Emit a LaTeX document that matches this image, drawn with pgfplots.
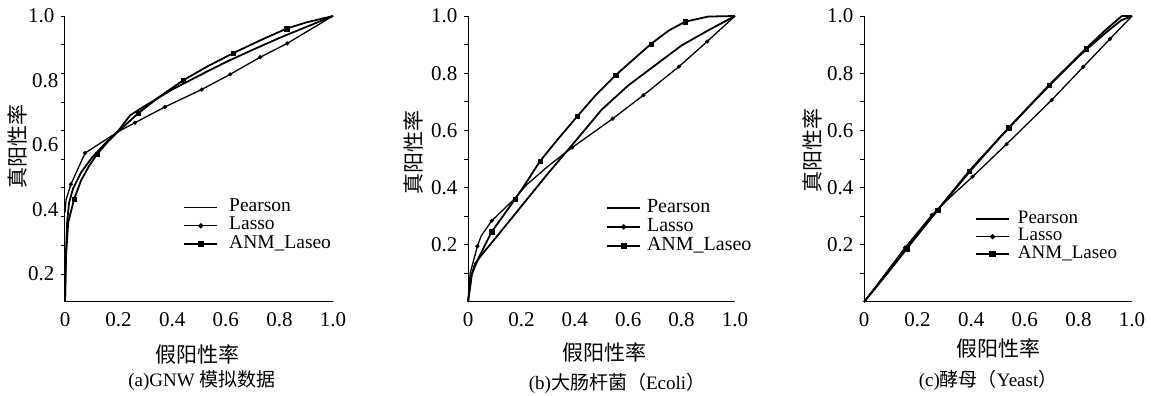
\documentclass[border=0pt]{standalone}
\usepackage{fontspec}
\setmainfont{Liberation Serif}
\newfontfamily\cjk{Noto Sans CJK SC}
\usepackage{pgfplots}
\pgfplotsset{compat=1.18}
\pgfplotsset{
  rocstyle/.style={
    scale only axis,
    width=267pt, height=286pt,
    anchor=south west,
    axis lines=left,
    axis line style={-, line width=1pt, black},
    xmin=0, xmax=1, ymax=1,
    clip=false,
    tick align=outside,
    major tick length=4pt,
    tick style={line width=0.8pt, black},
    xtick={0,0.2,0.4,0.6,0.8,1.0},
    xticklabels={0,0.2,0.4,0.6,0.8,1.0},
    x tick style={draw=none},
    /pgf/number format/assume math mode=true,
    tick label style={font=\fontsize{21}{21}\selectfont},
    xticklabel style={yshift=-3pt},
    yticklabel style={xshift=-3pt},
    label style={font=\fontsize{21}{21}\selectfont\cjk},
    xlabel={假阳性率},
    ylabel={真阳性率},
    legend cell align=left,
    legend image code/.code={\draw[mark repeat=2,mark phase=2,##1] plot coordinates {(0pt,0pt) (16.5pt,0pt) (33pt,0pt)};},
  },
  pear/.style={line width=1.8pt, black, line join=round, no marks},
  lasso/.style={line width=1.3pt, black, line join=round, no marks},
  anm/.style={line width=1.8pt, black, line join=round, no marks},
  lassom/.style={only marks, mark=*, mark size=1.9pt, black},
  anmm/.style={only marks, mark=square*, mark size=2.2pt, black},
}
\begin{document}
\begin{tikzpicture}
\useasboundingbox (0,0) rectangle (1151pt,396pt);
% ---------------- (a) ----------------
\begin{axis}[rocstyle, at={(65pt,94pt)}, width=268pt,
  ymin=0.113,
  ytick={0.2,0.289,0.378,0.467,0.556,0.644,0.733,0.822,0.911,1.0},
  yticklabels={0.2,,,,,,,,,1.0},
  extra y ticks={0.4,0.6,0.8},
  extra y tick labels={0.4,0.6,0.8},
  extra y tick style={major tick length=0pt},
  xlabel style={at={(axis description cs:0.493,-0.185)}, anchor=center},
  ylabel style={at={(axis description cs:-0.176,0.542)}, anchor=center, rotate=0},
  legend style={draw=none, fill=none, inner sep=0pt, row sep=0pt, column sep=11pt,
    font=\fontsize{19.5}{19.5}\selectfont,
    nodes={inner sep=0pt, text height=13.3pt, text depth=5pt},
    at={(axis description cs:0.441,0.363)}, anchor=north west},
]
\addlegendimage{pear}\addlegendentry{Pearson}
\addlegendimage{line width=1.3pt, black, mark=*, mark size=1.9pt}\addlegendentry{Lasso}
\addlegendimage{line width=1.8pt, black, mark=square*, mark size=2.2pt}\addlegendentry{ANM\_Laseo}
\addplot[pear] table {
0 0.115
0.003 0.25
0.008 0.36
0.015 0.42
0.03 0.465
0.06 0.515
0.1 0.56
0.15 0.605
0.2 0.645
0.243 0.692
0.3 0.722
0.4 0.772
0.5 0.815
0.6 0.857
0.7 0.895
0.8 0.932
0.9 0.966
1 1
};
\addplot[lasso] table {
0 0.39
0.004 0.43
0.022 0.478
0.075 0.575
0.2 0.642
0.261 0.669
0.373 0.718
0.51 0.772
0.616 0.819
0.728 0.872
0.829 0.915
1 1
};
\addplot[lassom] table {
0.022 0.478
0.075 0.575
0.261 0.669
0.373 0.718
0.51 0.772
0.616 0.819
0.728 0.872
0.829 0.915
};
\addplot[anm] table {
0 0.115
0.004 0.26
0.012 0.36
0.034 0.432
0.06 0.49
0.09 0.535
0.12 0.572
0.16 0.61
0.2 0.643
0.273 0.698
0.35 0.748
0.44 0.80
0.53 0.843
0.628 0.885
0.73 0.925
0.827 0.961
0.9 0.98
1 1
};
\addplot[anmm] table {
0.034 0.432
0.12 0.572
0.273 0.698
0.44 0.80
0.628 0.885
0.827 0.961
};
\node[font=\fontsize{19}{19}\selectfont] at (axis description cs:0.511,-0.273) {(a)GNW {\cjk 模拟数据}};
\end{axis}
% ---------------- (b) ----------------
\begin{axis}[rocstyle, at={(468pt,94pt)},
  ymin=0,
  ytick={0.1,0.2,0.3,0.4,0.5,0.6,0.7,0.8,0.9,1.0},
  yticklabels={,0.2,,0.4,,0.6,,0.8,,1.0},
  xlabel style={at={(axis description cs:0.513,-0.178)}, anchor=center},
  ylabel style={at={(axis description cs:-0.206,0.524)}, anchor=center, rotate=0},
  legend style={draw=none, fill=none, inner sep=0pt, row sep=0pt, column sep=6pt,
    font=\fontsize{20}{20}\selectfont,
    nodes={inner sep=0pt, text height=13.8pt, text depth=5pt},
    at={(axis description cs:0.517,0.362)}, anchor=north west},
]
\addlegendimage{pear}\addlegendentry{Pearson}
\addlegendimage{line width=1.3pt, black, mark=*, mark size=1.9pt}\addlegendentry{Lasso}
\addlegendimage{line width=1.8pt, black, mark=square*, mark size=2.2pt}\addlegendentry{ANM\_Laseo}
\addplot[pear] table {
0 0
0.012 0.09
0.027 0.135
0.06 0.175
0.1 0.22
0.2 0.335
0.3 0.45
0.4 0.56
0.5 0.672
0.6 0.757
0.7 0.827
0.8 0.897
0.9 0.95
1 1
};
\addplot[lasso] table {
0 0
0.008 0.1
0.035 0.195
0.05 0.232
0.089 0.284
0.17 0.357
0.22 0.41
0.3 0.475
0.39 0.54
0.542 0.641
0.657 0.723
0.79 0.823
0.896 0.911
1 1
};
\addplot[lassom] table {
0.035 0.195
0.089 0.284
0.39 0.54
0.542 0.641
0.657 0.723
0.79 0.823
0.896 0.911
};
\addplot[anm] table {
0 0
0.015 0.1
0.04 0.155
0.089 0.246
0.176 0.359
0.22 0.42
0.27 0.493
0.34 0.573
0.41 0.65
0.48 0.725
0.553 0.793
0.6 0.832
0.685 0.902
0.75 0.948
0.813 0.98
0.9 0.998
1 1
};
\addplot[anmm] table {
0.089 0.246
0.176 0.359
0.27 0.493
0.41 0.65
0.553 0.793
0.685 0.902
0.813 0.98
};
\node[font=\fontsize{19}{19}\selectfont] at (axis description cs:0.558,-0.283) {(b){\cjk 大肠杆菌（}Ecoli{\cjk ）}};
\end{axis}
% ---------------- (c) ----------------
\begin{axis}[rocstyle, at={(864pt,94pt)}, width=268pt,
  ymin=0,
  ytick={0.1,0.2,0.3,0.4,0.5,0.6,0.7,0.8,0.9,1.0},
  yticklabels={,0.2,,0.4,,0.6,,0.8,,1.0},
  xlabel style={at={(axis description cs:0.5,-0.161)}, anchor=center},
  ylabel style={at={(axis description cs:-0.194,0.531)}, anchor=center, rotate=0},
  legend style={draw=none, fill=none, inner sep=0pt, row sep=0pt, column sep=8pt,
    font=\fontsize{19}{19}\selectfont,
    nodes={inner sep=0pt, text height=13pt, text depth=4.7pt},
    at={(axis description cs:0.414,0.322)}, anchor=north west},
]
\addlegendimage{pear}\addlegendentry{Pearson}
\addlegendimage{line width=1.3pt, black, mark=*, mark size=1.9pt}\addlegendentry{Lasso}
\addlegendimage{line width=1.8pt, black, mark=square*, mark size=2.2pt}\addlegendentry{ANM\_Laseo}
\addplot[pear] table {
0 0
0.1 0.115
0.2 0.235
0.3 0.35
0.4 0.462
0.5 0.568
0.6 0.668
0.7 0.765
0.8 0.858
0.9 0.94
0.96 0.985
1 1
};
\addplot[lasso] table {
0 0
0.153 0.19
0.253 0.304
0.32 0.365
0.405 0.438
0.532 0.552
0.7 0.706
0.818 0.822
0.918 0.92
1 1
};
\addplot[lassom] table {
0.153 0.19
0.253 0.304
0.405 0.438
0.532 0.552
0.7 0.706
0.818 0.822
0.918 0.92
};
\addplot[anm] table {
0 0
0.159 0.187
0.275 0.322
0.392 0.458
0.54 0.609
0.691 0.759
0.828 0.886
0.9 0.95
0.962 1.0
1 1
};
\addplot[anmm] table {
0.159 0.187
0.275 0.322
0.392 0.458
0.54 0.609
0.691 0.759
0.828 0.886
};
\node[font=\fontsize{19}{19}\selectfont] at (axis description cs:0.463,-0.273) {(c){\cjk 酵母（}Yeast{\cjk ）}};
\end{axis}
\end{tikzpicture}
\end{document}
